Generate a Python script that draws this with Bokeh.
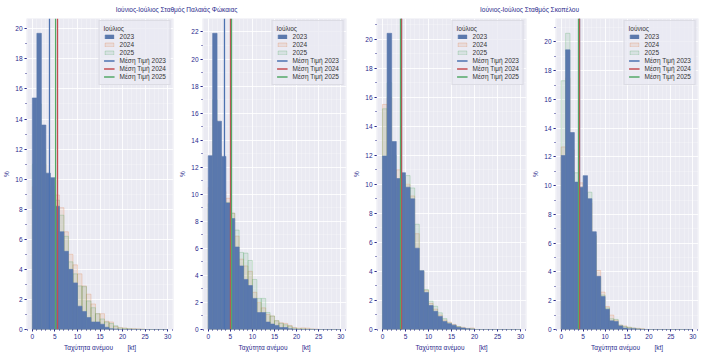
from bokeh.plotting import figure
from bokeh.layouts import column, row
from bokeh.models import Label, SingleIntervalTicker, Range1d, Legend, LegendItem
from bokeh.embed import file_html
from bokeh.resources import INLINE

# ---------------- data ----------------
bin_edges = list(range(0, 31))  # 1 kt bins, 0..30 kt
years = ["2023", "2024", "2025"]

group_titles = ["Ιούνιος-Ιούλιος Σταθμός Παλαιάς Φώκαιας", "Ιούνιος-Ιούλιος Σταθμός Σκοπέλου"]
legend_titles = ["Ιούλιος", "Ιούλιος", "Ιούλιος", "Ιούνιος"]

# Panel 1 (Παλαιά Φώκαια)
p1_2023 = [15.4, 19.7, 13.6, 10.4, 10.1, 8.2, 6.5, 5.2, 4.0, 3.1, 1.55, 1.2, 0.8, 0.5, 0.5, 0.35, 0.15, 0.05, 0.03, 0, 0, 0, 0, 0, 0, 0, 0, 0, 0, 0]
p1_2024 = [9.5, 13.5, 11.0, 9.5, 9.3, 8.95, 8.1, 6.5, 5.0, 4.3, 3.7, 2.9, 2.35, 1.7, 1.05, 1.05, 0.55, 0.5, 0.2, 0.12, 0.1, 0.05, 0.05, 0.04, 0.02, 0, 0, 0, 0, 0]
p1_2025 = [11.0, 15.0, 12.0, 10.0, 9.5, 8.6, 7.6, 6.2, 4.5, 3.7, 2.9, 2.85, 1.9, 1.45, 1.05, 0.7, 0.5, 0.4, 0.25, 0.1, 0.07, 0.05, 0.03, 0.02, 0.01, 0, 0, 0, 0, 0]
p1_means = [3.84, 5.58, 5.07]

# Panel 2 (Παλαιά Φώκαια)
p2_2023 = [12.85, 21.9, 15.4, 12.8, 9.35, 8.2, 6.1, 4.7, 3.7, 3.25, 2.3, 1.25, 1.25, 0.55, 0.4, 0.3, 0.15, 0.15, 0.05, 0.02, 0, 0, 0, 0, 0, 0, 0, 0, 0, 0]
p2_2024 = [10.5, 15.5, 13.0, 10.2, 9.7, 8.6, 6.9, 5.2, 4.7, 4.3, 2.75, 2.0, 1.6, 1.1, 1.0, 0.65, 0.5, 0.45, 0.3, 0.15, 0.1, 0.12, 0.1, 0.04, 0.03, 0, 0, 0, 0, 0]
p2_2025 = [9.3, 17.0, 12.0, 8.2, 9.4, 8.6, 7.35, 5.7, 5.65, 5.1, 3.7, 2.3, 2.3, 1.25, 1.0, 0.65, 0.45, 0.35, 0.25, 0.1, 0.05, 0.05, 0.03, 0.02, 0, 0, 0, 0, 0, 0]
p2_means = [3.77, 4.95, 5.2]

# Panel 3 (Σκόπελος)
p3_2023 = [11.95, 20.4, 12.95, 10.4, 10.8, 9.8, 9.0, 5.6, 4.05, 2.55, 1.65, 1.25, 0.9, 0.55, 0.4, 0.3, 0.15, 0.1, 0.05, 0.02, 0, 0, 0, 0, 0, 0, 0, 0, 0, 0]
p3_2024 = [15.5, 16.0, 11.0, 11.0, 10.5, 10.0, 9.2, 6.6, 4.0, 2.7, 1.8, 1.4, 1.0, 0.65, 0.5, 0.35, 0.2, 0.15, 0.08, 0.1, 0, 0, 0, 0, 0, 0, 0, 0, 0, 0]
p3_2025 = [15.2, 17.0, 12.0, 9.8, 10.2, 10.6, 9.75, 7.25, 4.05, 2.75, 1.95, 1.6, 1.15, 0.75, 0.45, 0.3, 0.2, 0.1, 0.05, 0.05, 0, 0, 0, 0, 0, 0, 0, 0, 0, 0]
p3_means = [4.05, 4.08, 4.02]

# Panel 4 (Σκόπελος)
p4_2023 = [12.1, 19.45, 13.7, 10.25, 9.9, 10.7, 9.1, 6.8, 3.7, 2.3, 1.4, 0.6, 0.55, 0.25, 0.1, 0.05, 0.05, 0.02, 0, 0, 0, 0, 0, 0, 0, 0, 0, 0, 0, 0]
p4_2024 = [12.7, 17.5, 12.5, 9.5, 10.2, 10.0, 8.8, 6.5, 4.1, 2.6, 1.6, 1.0, 0.65, 0.3, 0.25, 0.15, 0.1, 0.08, 0.05, 0, 0, 0, 0, 0, 0, 0, 0, 0, 0, 0]
p4_2025 = [17.3, 20.6, 11.0, 10.9, 9.0, 9.5, 9.55, 6.6, 3.6, 2.4, 1.5, 0.75, 0.7, 0.3, 0.2, 0.15, 0.1, 0.05, 0.03, 0, 0, 0, 0, 0, 0, 0, 0, 0, 0, 0]
p4_means = [4.15, 4.28, 3.98]

panels = [
    (p1_2023, p1_2024, p1_2025, p1_means),
    (p2_2023, p2_2024, p2_2025, p2_means),
    (p3_2023, p3_2024, p3_2025, p3_means),
    (p4_2023, p4_2024, p4_2025, p4_means),
]

# ---------------- style ----------------
FONT = "Liberation Sans"
TXT = "#2a2a8c"
BG = "#eaeaf2"
bar_colors = ["#5a78ad", "#dd8452", "#55a868"]
mean_colors = ["#4c72b0", "#c44e52", "#55a868"]

# (left border, frame width, right border) for each panel figure
geom = [(23, 150, 3), (20, 150, 4), (26, 150, 3), (21, 148, 8)]
ROW_H = 335
FRAME_H = 314


def make_panel(idx):
    a, b, c, means = panels[idx]
    lb, fw, rb = geom[idx]
    ymax = max(max(a), max(b), max(c)) * 1.05
    p = figure(width=lb + fw + rb, height=ROW_H, output_backend="svg", toolbar_location=None,
               x_range=Range1d(-1.3, 31.3), y_range=Range1d(0, ymax),
               min_border_left=lb, min_border_right=rb, min_border_top=0,
               min_border_bottom=ROW_H - FRAME_H)
    p.background_fill_color = BG
    p.border_fill_color = "white"
    p.outline_line_color = None

    left = bin_edges[:-1]
    right = bin_edges[1:]
    # light years drawn first, 2023 on top
    r24 = p.quad(left=left, right=right, bottom=0, top=b, fill_color=bar_colors[1], fill_alpha=0.14,
                 line_color=bar_colors[1], line_alpha=0.4, line_width=0.7)
    r25 = p.quad(left=left, right=right, bottom=0, top=c, fill_color=bar_colors[2], fill_alpha=0.12,
                 line_color=bar_colors[2], line_alpha=0.4, line_width=0.7)
    r23 = p.quad(left=left, right=right, bottom=0, top=a, fill_color=bar_colors[0], fill_alpha=1.0,
                 line_color=bar_colors[0], line_alpha=1.0, line_width=0.6)
    items = [LegendItem(label=years[0], renderers=[r23]),
             LegendItem(label=years[1], renderers=[r24]),
             LegendItem(label=years[2], renderers=[r25])]
    for k in range(3):
        rv = p.vspan(x=[means[k]], line_color=mean_colors[k], line_width=1.3)
        items.append(LegendItem(label="Μέση Τιμή " + years[k], renderers=[rv]))

    lg = Legend(items=items, location="top_right")
    p.add_layout(lg, "center")

    p.xaxis.ticker = SingleIntervalTicker(interval=5, num_minor_ticks=5)
    p.yaxis.ticker = SingleIntervalTicker(interval=2, num_minor_ticks=2)
    p.xaxis.axis_label = "Ταχύτητα ανέμου\u00a0\u00a0\u00a0\u00a0\u00a0\u00a0\u00a0\u00a0[kt]"
    p.yaxis.axis_label = "%"
    for ax in (p.xaxis[0], p.yaxis[0]):
        ax.axis_line_color = None
        ax.major_tick_line_color = TXT
        ax.minor_tick_line_color = TXT
        ax.major_tick_out = 2
        ax.major_tick_in = 0
        ax.minor_tick_out = 1
        ax.minor_tick_in = 0
        ax.major_label_text_color = TXT
        ax.major_label_text_font = FONT
        ax.major_label_text_font_size = "6.5px"
        ax.major_label_standoff = 2
        ax.axis_label_text_color = TXT
        ax.axis_label_text_font = FONT
        ax.axis_label_text_font_size = "6.5px"
        ax.axis_label_text_font_style = "normal"
        ax.axis_label_standoff = 2
    p.yaxis.major_label_orientation = "horizontal"

    p.xgrid.grid_line_color = "white"
    p.ygrid.grid_line_color = "white"
    p.xgrid.minor_grid_line_color = "white"
    p.ygrid.minor_grid_line_color = "white"
    p.xgrid.minor_grid_line_alpha = 0.25
    p.ygrid.minor_grid_line_alpha = 0.25
    p.xgrid.grid_line_width = 0.8
    p.ygrid.grid_line_width = 0.8

    lg.title = legend_titles[idx]
    lg.title_text_font = FONT
    lg.title_text_font_size = "6.5px"
    lg.title_text_font_style = "normal"
    lg.title_text_color = "#333333"
    lg.title_standoff = 1
    lg.label_text_font = FONT
    lg.label_text_font_size = "6.5px"
    lg.label_text_color = "#333333"
    lg.label_height = 7
    lg.label_standoff = 5
    lg.glyph_height = 5
    lg.glyph_width = 11
    lg.spacing = 1
    lg.padding = 4
    lg.margin = 2
    lg.background_fill_color = BG
    lg.background_fill_alpha = 0.8
    lg.border_line_color = "#d8d8e0"
    lg.border_line_alpha = 0.8
    return p


figs = [make_panel(i) for i in range(4)]

header = figure(width=706, height=18, output_backend="svg", toolbar_location=None,
                x_range=Range1d(0, 706), y_range=Range1d(0, 18),
                min_border=0, min_border_left=0, min_border_right=0,
                min_border_top=0, min_border_bottom=0)
header.axis.visible = False
header.grid.visible = False
header.outline_line_color = None
header.background_fill_color = "white"
title_centers = [176, 529]
for t, cx in zip(group_titles, title_centers):
    header.add_layout(Label(x=cx, y=9, x_units="screen", y_units="screen", text=t,
                            text_align="center", text_baseline="middle",
                            text_font=FONT, text_font_size="6.5px", text_color=TXT))

layout = column(header, row(*figs, spacing=0), spacing=0)

open("out.html", "w").write(file_html(layout, INLINE))
